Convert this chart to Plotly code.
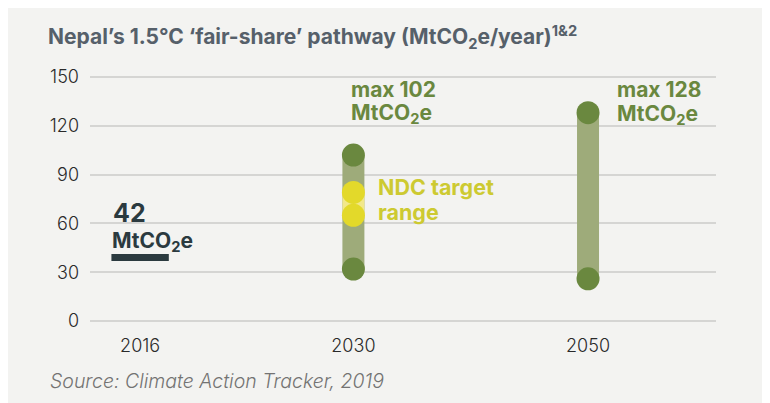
import plotly.graph_objects as go

# data
years = ["2016", "2030", "2050"]
emissions_2016 = 39
label_2016 = "42"
fair_low = [32, 26]       # 2030, 2050
fair_high = [102, 128]    # 2030, 2050
ndc_low = 65
ndc_high = 79
y_ticks = [0, 30, 60, 90, 120, 150]

# horizontal slot for each year (the reference is not evenly spaced)
slot = {"2016": 0, "2030": 1, "2050": 2.1}

DARK = "#2b3a3f"
GREEN = "#6a883f"
PILL = "#9eab7a"
YELLOW = "#e3d92a"
YELLOW_LIGHT = "#f2e88a"
YELLOW_TEXT = "#cdca31"
GREY_BG = "#f3f3f1"
FONT = "Inter"

# plot area in pixels (figure coords)
L, R, T, B = 82, 62, 64, 85
PLOT_W = 770 - L - R
PLOT_H = 403 - T - B


def note(x, y, text, dx, dy, size, color):
    fig.add_annotation(x=x, y=y, xref="x", yref="y", text=text, showarrow=False,
                       xanchor="left", yanchor="middle", xshift=dx, yshift=dy,
                       font=dict(family=FONT, size=size, color=color, weight=700))


fig = go.Figure()

# 2016 actual emissions (line-ew marker is drawn 1.4x its size)
fig.add_trace(go.Scatter(
    x=[slot["2016"]], y=[emissions_2016], mode="markers",
    marker=dict(symbol="line-ew", size=41, line=dict(width=7, color=DARK)),
    hoverinfo="skip",
))

# fair-share ranges
for yr, lo, hi in zip(years[1:], fair_low, fair_high):
    fig.add_trace(go.Scatter(
        x=[slot[yr], slot[yr]], y=[lo, hi], mode="lines",
        line=dict(width=22, color=PILL), hoverinfo="skip",
    ))
    fig.add_trace(go.Scatter(
        x=[slot[yr], slot[yr]], y=[lo, hi], mode="markers",
        marker=dict(size=23, color=GREEN), hoverinfo="skip",
    ))

# NDC target range
fig.add_trace(go.Scatter(
    x=[slot["2030"]] * 2, y=[ndc_low, ndc_high], mode="lines",
    line=dict(width=22, color=YELLOW_LIGHT), hoverinfo="skip",
))
fig.add_trace(go.Scatter(
    x=[slot["2030"]] * 2, y=[ndc_low, ndc_high], mode="markers",
    marker=dict(size=23, color=YELLOW), hoverinfo="skip",
))

# labels
note(slot["2016"], emissions_2016, label_2016, -29, 45, 25, DARK)
note(slot["2016"], emissions_2016, "MtCO<sub>2</sub>e", -30, 16, 21, DARK)

note(slot["2030"], fair_high[0], f"max {fair_high[0]}", -4, 66, 21, GREEN)
note(slot["2030"], fair_high[0], "MtCO<sub>2</sub>e", -4, 41, 21, GREEN)
note(slot["2050"], fair_high[1], f"max {fair_high[1]}", 27, 23, 21, GREEN)
note(slot["2050"], fair_high[1], "MtCO<sub>2</sub>e", 27, -2, 21, GREEN)

note(slot["2030"], ndc_high, "NDC target", 23, 5, 21.5, YELLOW_TEXT)
note(slot["2030"], ndc_high, "range", 23, -20, 21.5, YELLOW_TEXT)

fig.add_annotation(x=(40 - L) / PLOT_W, y=-(373 - (403 - B)) / PLOT_H,
                   xref="paper", yref="paper",
                   text="<i>Source: Climate Action Tracker, 2019</i>", showarrow=False,
                   xanchor="left", yanchor="middle",
                   font=dict(family=FONT, size=19.5, color="#737373", weight=300))

fig.update_layout(
    width=770, height=403,
    margin=dict(l=L, r=R, t=T, b=B),
    paper_bgcolor=GREY_BG, plot_bgcolor=GREY_BG,
    showlegend=False,
    title=dict(text="<b>Nepal’s 1.5°C ‘fair-share’ pathway (MtCO<sub>2</sub>e/year)<sup>1&2</sup></b>",
               x=40 / 770, xref="container", xanchor="left",
               y=1 - 29 / 403, yref="container", yanchor="middle",
               font=dict(family=FONT, size=21, color="#56606a")),
    font=dict(family=FONT),
)
fig.update_xaxes(range=[-0.235, 2.70], tickvals=[slot[y] for y in years], ticktext=years,
                 showgrid=False, zeroline=False, showline=False, ticks="",
                 ticklabelstandoff=7,
                 tickfont=dict(family=FONT, size=18, color="#2a2a2a", weight=300))
fig.update_yaxes(range=[-3, 153], tickvals=y_ticks, showgrid=True, gridcolor="#d5d5d3",
                 gridwidth=2, zeroline=False, showline=False, ticks="", ticklabelstandoff=10,
                 tickfont=dict(family=FONT, size=18, color="#2a2a2a", weight=300))
fig.update_traces(cliponaxis=False)

fig.write_html("out.html")
